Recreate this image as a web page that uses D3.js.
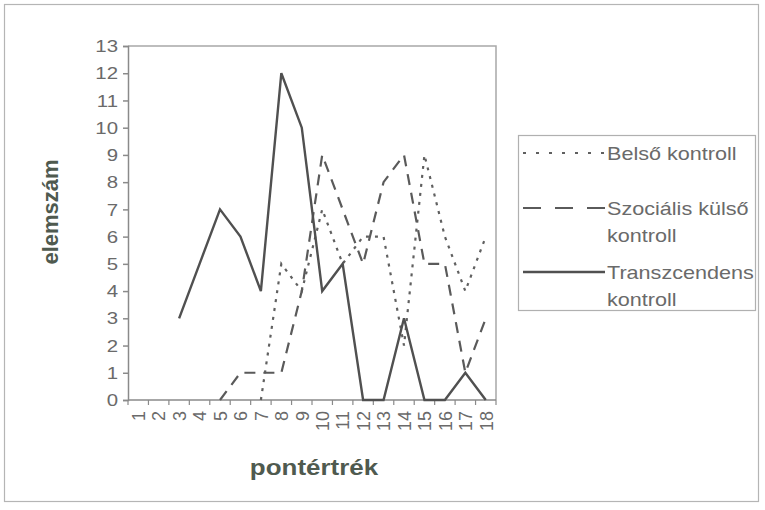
<!DOCTYPE html>
<html>
<head>
<meta charset="utf-8">
<script src="https://cdn.jsdelivr.net/npm/d3@7/dist/d3.min.js"></script>
<style>
  html, body { margin: 0; padding: 0; background: #fff; }
  svg { display: block; }
  text { font-family: "Liberation Sans", Arial, sans-serif; }
</style>
</head>
<body>
<div id="chart"></div>
<script>
// ---- data ----
const categories = ["1","2","3","4","5","6","7","8","9","10","11","12","13","14","15","16","17","18"];
const belsoKontroll      = [null,null,null,null,null,null,0,5,4,7,5,6,6,2,9,6,4,6];
const szocialisKulso     = [null,null,null,null,0,1,1,1,4,9,7,5,8,9,5,5,1,3];
const transzcendens      = [null,null,3,5,7,6,4,12,10,4,5,0,0,3,0,0,1,0];
const yTicks = [0,1,2,3,4,5,6,7,8,9,10,11,12,13];
const seriesNames = ["Belső kontroll", "Szociális külső|kontroll", "Transzcendens|kontroll"];
const xTitle = "pontértrék";
const yTitle = "elemszám";

// ---- layout ----
const W = 765, H = 510;
const plot = { left: 128, right: 496, top: 46, bottom: 400 };
const SX = 1.2; // horizontal stretch of the scanned glyphs

const svg = d3.select("#chart").append("svg").attr("width", W).attr("height", H);
svg.append("rect").attr("width", W).attr("height", H).attr("fill", "#fff");

// outer frame
svg.append("rect").attr("x", 4.5).attr("y", 4.5).attr("width", 754).attr("height", 497)
  .attr("fill", "none").attr("stroke", "#b5b5b5").attr("stroke-width", 1.2);

const x = d3.scaleBand().domain(categories).range([plot.left, plot.right]);
const y = d3.scaleLinear().domain([0, 13]).range([plot.bottom, plot.top]);

function txt(g, px, py, str, o) {
  o = o || {};
  return g.append("text")
    .attr("transform", `translate(${px},${py}) scale(${o.sx || SX},1) rotate(${o.rot || 0})`)
    .attr("text-anchor", o.anchor || "start")
    .attr("dy", o.dy || 0)
    .attr("font-size", o.size || 17)
    .attr("font-weight", o.weight || "normal")
    .attr("fill", o.fill || "#6a6a6a")
    .text(str);
}

// plot area border (top & right)
svg.append("path")
  .attr("d", `M${plot.left},${plot.top}H${plot.right}V${plot.bottom}`)
  .attr("fill", "none").attr("stroke", "#a8a8a8").attr("stroke-width", 1.5);

// y axis
const yAxis = d3.axisLeft(y).tickValues(yTicks).tickSize(5).tickFormat("");
const gy = svg.append("g").attr("transform", `translate(${plot.left},0)`).call(yAxis);
gy.selectAll("path, line").attr("stroke", "#8a8a8a").attr("stroke-width", 1.5);
yTicks.forEach(v => txt(svg, plot.left - 10, y(v), String(v), { anchor: "end", dy: "0.36em", size: 17 }));

// x axis (ticks at category boundaries)
const gx = svg.append("g").attr("transform", `translate(0,${plot.bottom})`);
gx.append("line").attr("x1", plot.left).attr("x2", plot.right).attr("stroke", "#8a8a8a").attr("stroke-width", 1.5);
const bounds = categories.map(c => x(c)).concat([x(categories[categories.length - 1]) + x.bandwidth()]);
gx.selectAll("line.tk").data(bounds).join("line").attr("class", "tk")
  .attr("x1", d => d).attr("x2", d => d).attr("y1", 0).attr("y2", 5)
  .attr("stroke", "#8a8a8a").attr("stroke-width", 1.2);
categories.forEach(c => txt(svg, x(c) + x.bandwidth() / 2, plot.bottom + 11, c,
  { anchor: "end", rot: -90, dy: "0.36em", size: 18, sx: 1.05 }));

// lines
const styles = [
  { data: belsoKontroll, dash: "3,6", legendDash: "3,10", color: "#606060", width: 2.2 },
  { data: szocialisKulso, dash: "11,8", legendDash: "18,14", color: "#5a5a5a", width: 2.2 },
  { data: transzcendens, dash: null, legendDash: null, color: "#505050", width: 2.4 }
];
const line = d3.line()
  .defined(d => d.v !== null)
  .x(d => x(d.c) + x.bandwidth() / 2)
  .y(d => y(d.v));
styles.forEach(s => {
  svg.append("path")
    .datum(categories.map((c, i) => ({ c, v: s.data[i] })))
    .attr("d", line)
    .attr("fill", "none").attr("stroke", s.color).attr("stroke-width", s.width)
    .attr("stroke-dasharray", s.dash).attr("stroke-linejoin", "miter");
});

// legend
const lg = svg.append("g");
lg.append("rect").attr("x", 518.5).attr("y", 135.5).attr("width", 237).attr("height", 175)
  .attr("fill", "none").attr("stroke", "#b0b0b0").attr("stroke-width", 1.2);
const legendY = [153, 208, 272];
styles.forEach((s, i) => {
  lg.append("line").attr("x1", 523).attr("x2", 605).attr("y1", legendY[i]).attr("y2", legendY[i])
    .attr("stroke", s.color).attr("stroke-width", s.width).attr("stroke-dasharray", s.legendDash);
  const parts = seriesNames[i].split("|");
  parts.forEach((p, j) => txt(lg, 607, legendY[i] + 7 + j * 27, p, { size: 18 }));
});

// axis titles
txt(svg, 314, 475, xTitle, { anchor: "middle", size: 22, weight: "bold", fill: "#4f5a4f", sx: 1.18 });
txt(svg, 58, 212, yTitle, { anchor: "middle", size: 22, weight: "bold", fill: "#4f5a4f", rot: -90, sx: 1.0 });
</script>
</body>
</html>
